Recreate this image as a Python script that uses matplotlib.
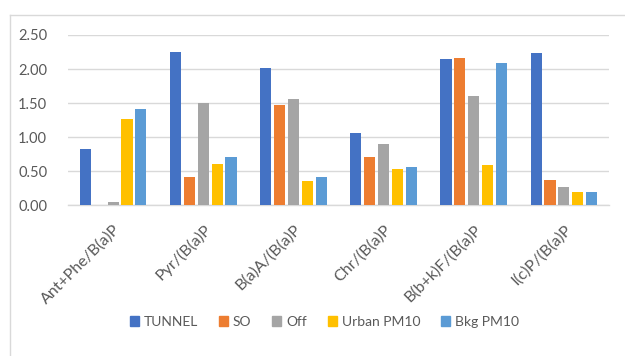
import matplotlib
matplotlib.use("Agg")
import matplotlib.pyplot as plt
from matplotlib.lines import Line2D
import numpy as np

categories = ["Ant+Phe/B(a)P", "Pyr/(B(a)P", "B(a)A/(B(a)P", "Chr/(B(a)P", "B(b+k)F/(B(a)P", "I(c)P/(B(a)P"]
series_names = ["TUNNEL", "SO", "Off", "Urban PM10", "Bkg PM10"]
tunnel = [0.82, 2.25, 2.01, 1.06, 2.15, 2.23]
so = [0.01, 0.41, 1.47, 0.71, 2.16, 0.37]
off = [0.05, 1.50, 1.56, 0.90, 1.60, 0.27]
urban_pm10 = [1.27, 0.61, 0.35, 0.53, 0.59, 0.19]
bkg_pm10 = [1.41, 0.71, 0.42, 0.56, 2.09, 0.19]
y_ticks = [0.0, 0.5, 1.0, 1.5, 2.0, 2.5]
colors = ["#4472C4", "#ED7D31", "#A5A5A5", "#FFC000", "#5B9BD5"]

plt.rcParams['font.family'] = ['Lato', 'DejaVu Sans']

fig = plt.figure(figsize=(6.25, 3.56), dpi=100)
ax = fig.add_axes([68 / 625, 1 - 205.3 / 356, (609 - 68) / 625, 170.3 / 356])

values = [tunnel, so, off, urban_pm10, bkg_pm10]
x = np.arange(len(categories))
slot = 1 / 6.5
for i, (name, vals, c) in enumerate(zip(series_names, values, colors)):
    offs = (i - 2) * slot
    ax.bar(x + offs, vals, width=slot * 0.8, color=c, label=name, zorder=3)

ax.set_xlim(-0.5, len(categories) - 0.5)
ax.set_ylim(0, 2.5)
ax.set_yticks(y_ticks)
ax.set_yticklabels([f"{v:.2f}" for v in y_ticks])
ax.yaxis.grid(True, color="#d9d9d9", linewidth=1.0, zorder=0)
ax.set_axisbelow(True)
for s in ["top", "right", "left"]:
    ax.spines[s].set_visible(False)
ax.spines["bottom"].set_color("#d9d9d9")
ax.spines["bottom"].set_linewidth(1.0)
ax.tick_params(axis="y", length=0, pad=15, labelsize=10.5, labelcolor="#595959")
ax.tick_params(axis="x", length=0, pad=12, labelsize=11.5, labelcolor="#595959")
ax.set_xticks(x)
ax.set_xticklabels(categories, rotation=45, ha="right", va="top", rotation_mode="anchor")

handles = [plt.Rectangle((0, 0), 1, 1, color=c) for c in colors]
fig.legend(handles, series_names, loc="center", bbox_to_anchor=(324.5 / 625, 1 - 322 / 356),
           ncol=5, frameon=False, fontsize=10, labelcolor="#595959",
           handlelength=0.65, handleheight=0.65, handletextpad=0.36, columnspacing=1.5)

# chart area border
fig.add_artist(Line2D([9.5 / 625, 1], [1 - 14.5 / 356, 1 - 14.5 / 356], color="#d9d9d9", lw=1))
fig.add_artist(Line2D([9.5 / 625, 9.5 / 625], [0, 1 - 14.5 / 356], color="#d9d9d9", lw=1))

fig.savefig("out.png", dpi=100)
